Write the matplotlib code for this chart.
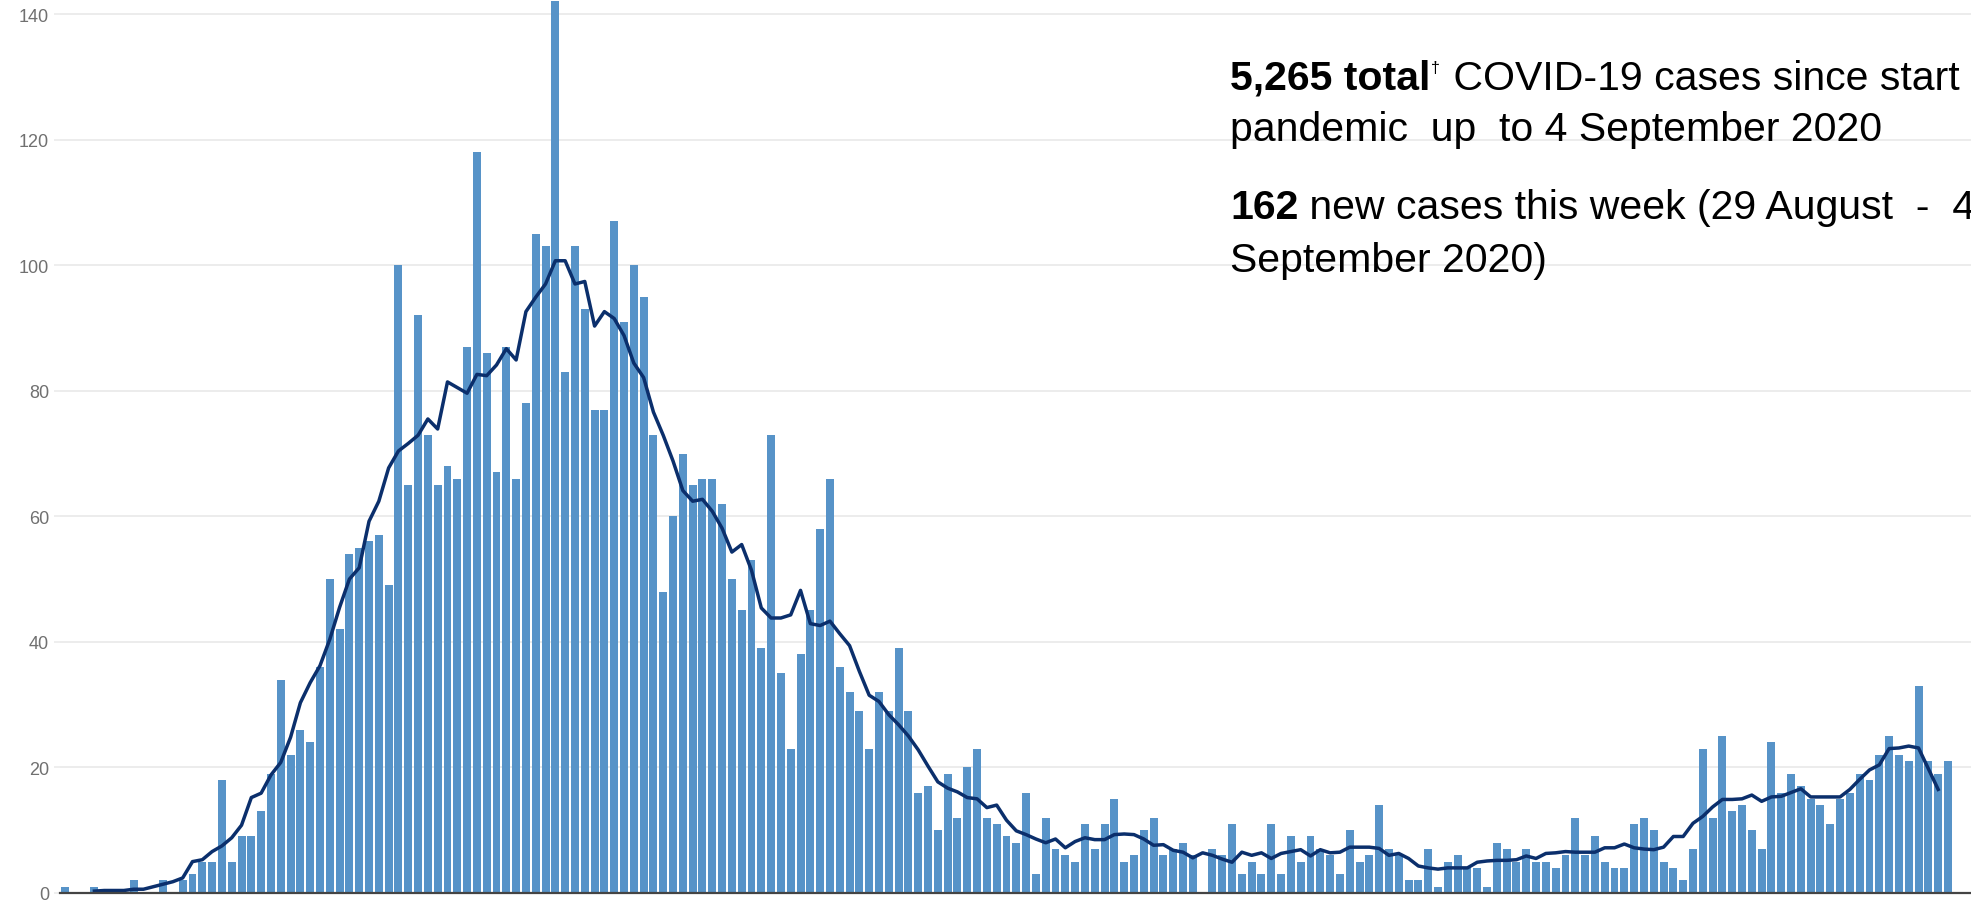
import numpy as np
import matplotlib
matplotlib.use("Agg")
import matplotlib.pyplot as plt

plt.rcParams['font.family'] = ['Liberation Sans', 'DejaVu Sans']

# ---------- data: daily new cases, 193 days ending 4 September 2020 ----------
cases = [
    1, 0, 0, 1, 0, 0, 0, 2, 0, 0,
    2, 0, 2, 3, 5, 5, 18, 5, 9, 9,
    13, 19, 34, 22, 26, 24, 36, 50, 42, 54,
    55, 56, 57, 49, 100, 65, 92, 73, 65, 68,
    66, 87, 118, 86, 67, 87, 66, 78, 105, 103,
    142, 83, 103, 93, 77, 77, 107, 91, 100, 95,
    73, 48, 60, 70, 65, 66, 66, 62, 50, 45,
    53, 39, 73, 35, 23, 38, 45, 58, 66, 36,
    32, 29, 23, 32, 29, 39, 29, 16, 17, 10,
    19, 12, 20, 23, 12, 11, 9, 8, 16, 3,
    12, 7, 6, 5, 11, 7, 11, 15, 5, 6,
    10, 12, 6, 7, 8, 6, 0, 7, 6, 11,
    3, 5, 3, 11, 3, 9, 5, 9, 7, 6,
    3, 10, 5, 6, 14, 7, 6, 2, 2, 7,
    1, 5, 6, 4, 4, 1, 8, 7, 5, 7,
    5, 5, 4, 6, 12, 6, 9, 5, 4, 4,
    11, 12, 10, 5, 4, 2, 7, 23, 12, 25,
    13, 14, 10, 7, 24, 16, 19, 17, 15, 14,
    11, 15, 16, 19, 18, 22, 25, 22, 21, 33,
    21, 19, 21,
]

# 7-day average line (None where no point is drawn)
avg = [None, None, None,
       0.3, 0.4, 0.4, 0.4, 0.6, 0.6, 1.0,
       1.4, 1.8, 2.4, 5.0, 5.3, 6.6, 7.5, 8.8, 10.8, 15.2,
       15.9, 18.8, 20.8, 24.8, 30.3, 33.5, 36.2, 40.4, 45.5, 50.0,
       51.8, 59.2, 62.4, 67.7, 70.4, 71.6, 72.9, 75.5, 73.9, 81.4,
       80.5, 79.6, 82.6, 82.4, 84.1, 86.7, 84.9, 92.6, 94.9, 97.0,
       100.7, 100.7, 97.0, 97.4, 90.3, 92.6, 91.5, 88.8, 84.4, 82.1,
       76.6, 72.9, 68.8, 64.1, 62.4, 62.7, 60.8, 58.1, 54.3, 55.5,
       51.4, 45.4, 43.8, 43.8, 44.3, 48.2, 42.9, 42.6, 43.3, 41.3,
       39.4, 35.3, 31.5, 30.5, 28.4, 26.8, 25.0, 22.8, 20.2, 17.7,
       16.7, 16.1, 15.2, 15.0, 13.6, 14.0, 11.6, 9.9, 9.3, 8.6,
       8.0, 8.6, 7.2, 8.2, 8.8, 8.5, 8.5, 9.3, 9.4, 9.3,
       8.6, 7.6, 7.7, 6.8, 6.5, 5.6, 6.4, 6.0, 5.4, 4.9,
       6.5, 6.0, 6.4, 5.5, 6.3, 6.6, 6.9, 5.9, 6.9, 6.4,
       6.5, 7.3, 7.3, 7.3, 7.1, 6.0, 6.3, 5.5, 4.3, 4.0,
       3.8, 4.0, 4.0, 4.0, 4.9, 5.1, 5.2, 5.2, 5.3, 5.9,
       5.5, 6.3, 6.4, 6.6, 6.5, 6.5, 6.5, 7.2, 7.2, 7.8,
       7.2, 7.0, 6.9, 7.3, 9.0, 9.0, 11.1, 12.2, 13.7, 14.9,
       14.9, 15.0, 15.6, 14.6, 15.3, 15.4, 16.0, 16.6, 15.3, 15.3,
       15.3, 15.3, 16.5, 18.1, 19.6, 20.4, 23.0, 23.1, 23.4, 23.1,
       19.8, 16.5, None]

y_ticks = [0, 20, 40, 60, 80, 100, 120, 140]

# ---------- figure ----------
W, H = 1971, 904
fig = plt.figure(figsize=(W / 100, H / 100), dpi=100)
ax = fig.add_axes([60 / W, 10 / H, 1 - 60 / W, 1 - 10 / H])

x = np.arange(len(cases))
avg_arr = np.array([np.nan if v is None else v for v in avg], dtype=float)

ax.bar(x, cases, width=0.81, color='#5793c8', zorder=2)
ax.plot(x, avg_arr, color='#0b2f6c', lw=2.5, zorder=3)

ax.set_xlim(-0.51, 194.35)
ax.set_ylim(0, 142.39)
ax.set_xticks([])
ax.set_yticks(y_ticks)
ax.grid(axis='y', color='#ebebeb', lw=1.3)
ax.set_axisbelow(True)
for side in ['top', 'right', 'left']:
    ax.spines[side].set_visible(False)
ax.spines['bottom'].set_color('#444444')
ax.spines['bottom'].set_linewidth(1.6)
ax.spines['bottom'].set_zorder(4)
ax.tick_params(axis='y', length=4.5, width=1.2, color='#ebebeb', pad=3.5,
               labelsize=13, labelcolor='#707070')

# ---------- annotation text (runs off the right edge, as in the original) ----------
renderer = fig.canvas.get_renderer()


def put(x_px, base_px, s, **kw):
    t = fig.text(x_px / W, 1 - base_px / H, s, va='baseline', ha='left',
                 color='black', **kw)
    return t, t.get_window_extent(renderer).x1


fs = 29.5
t, xe = put(1230, 90, '5,265 total', fontsize=fs, fontweight='bold')
t, xe = put(xe + 1, 73, '\u2020', fontsize=11.5)
put(xe + 2, 90, ' COVID-19 cases since start of', fontsize=fs)
put(1230, 141, 'pandemic  up  to 4 September 2020', fontsize=fs)
t, xe = put(1230, 219, '162', fontsize=fs, fontweight='bold')
put(xe, 219, ' new cases this week (29 August  -  4', fontsize=fs)
put(1230, 272, 'September 2020)', fontsize=fs)

fig.savefig('out.png', dpi=100)
